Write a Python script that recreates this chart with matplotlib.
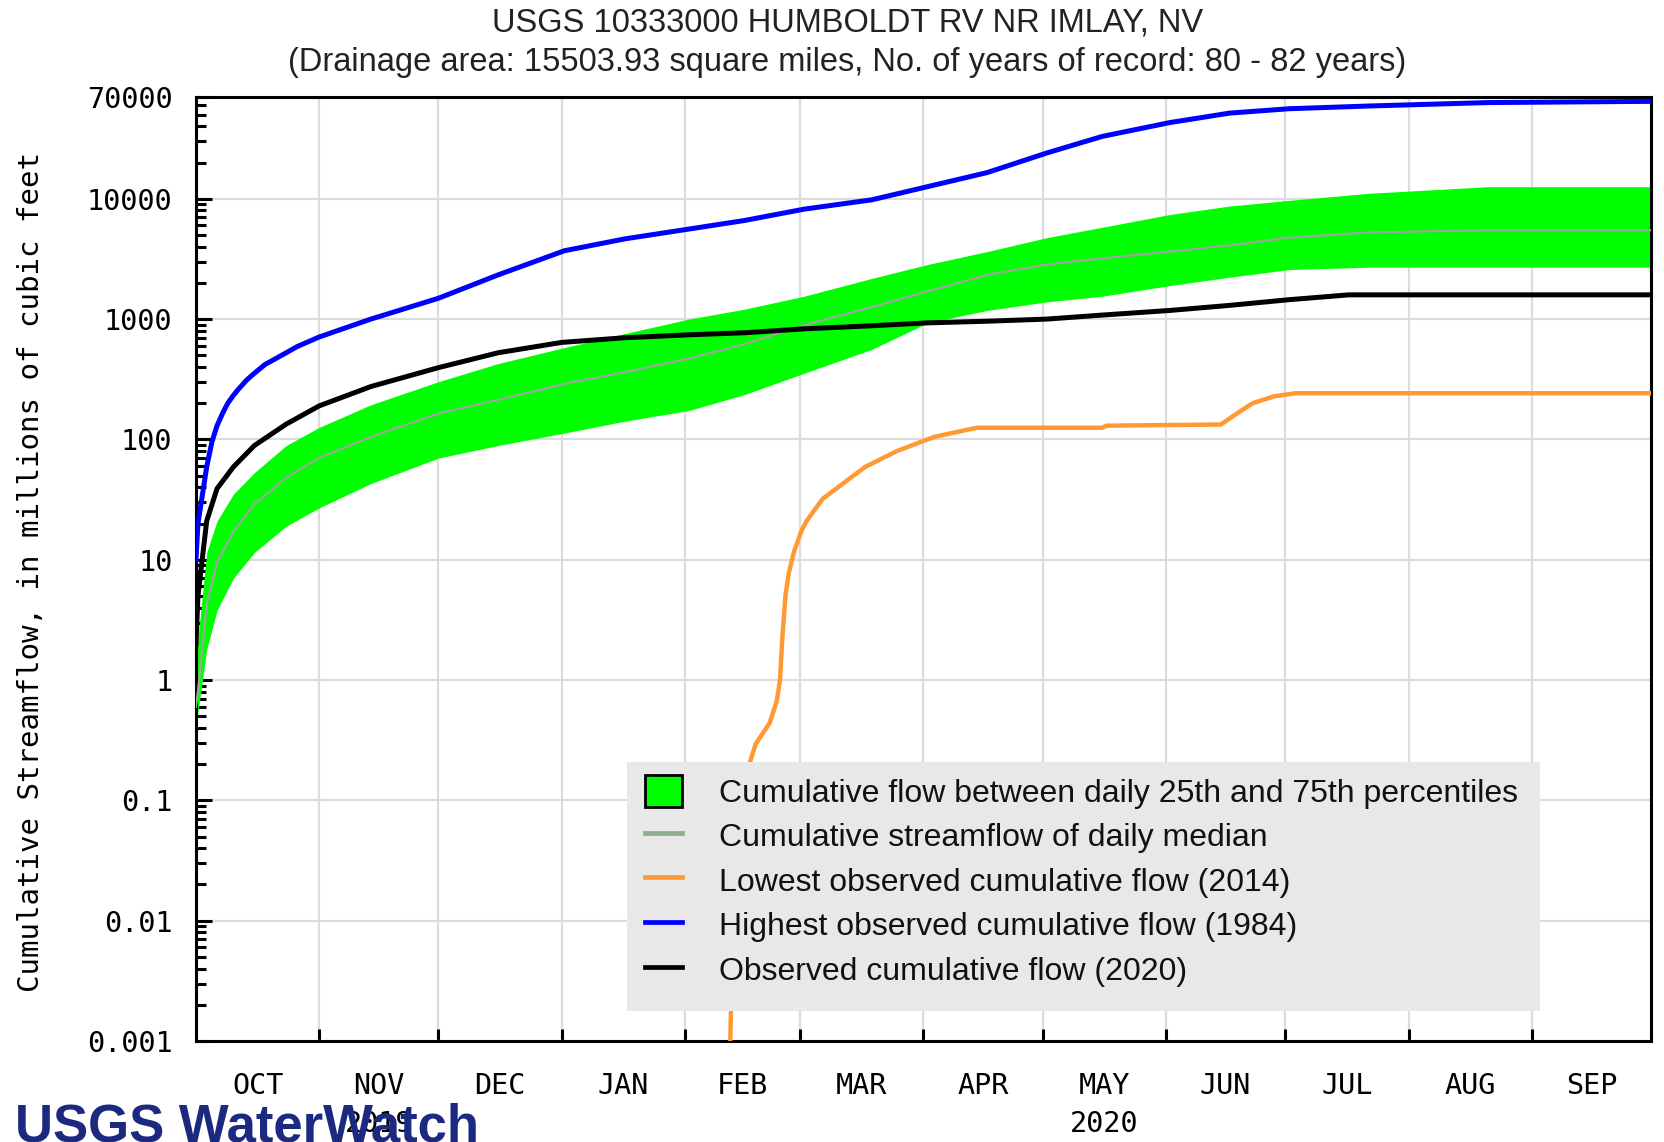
import numpy as np
import pandas as pd
import matplotlib
matplotlib.use('Agg')
import matplotlib.pyplot as plt
from matplotlib.patches import Rectangle, Patch
from matplotlib.lines import Line2D
from matplotlib.ticker import FixedLocator, LogLocator, NullFormatter

# days counted from 2019-10-01 (start of water year 2020)
band_days = [0, 0.5, 2.7, 5.3, 9.4, 14.7, 22.7, 31, 44, 61, 76, 92.7, 108, 124, 138,
             153, 170, 184, 199, 214, 228, 245, 260, 275, 295, 325, 366]
q75 = [1.5, 2.2, 11.5, 21, 35, 53, 89, 126, 194, 302, 427, 580, 760, 1000, 1210,
       1550, 2180, 2840, 3640, 4750, 5800, 7400, 8700, 9700, 11100, 12600, 12600]
q25 = [0.4, 0.54, 1.8, 3.8, 7, 11.5, 19, 27, 43, 70, 89, 113, 142, 174, 236,
       355, 560, 930, 1180, 1390, 1550, 1900, 2230, 2580, 2700, 2700, 2700]
median = [0.6, 0.8, 4.2, 9.4, 17, 29, 48, 70, 105, 164, 213, 290, 363, 470, 620,
          890, 1260, 1700, 2330, 2840, 3200, 3640, 4100, 4750, 5250, 5480, 5480]

high_days = [0, 0.5, 2.7, 4, 5.3, 6.7, 8, 9.4, 10.7, 12.7, 14.7, 17.4, 22.7, 25.4, 31, 44, 61, 76,
             92.7, 108, 124, 138, 153, 170, 184, 199, 214, 228, 245, 260, 275, 295, 325, 366]
high_1984 = [10, 20, 59, 95, 130, 165, 200, 232, 262, 310, 355, 420, 525, 590, 710, 1000, 1490, 2330,
             3700, 4650, 5600, 6600, 8200, 9800, 12600, 16500, 24000, 33000, 43000, 51500,
             56000, 59000, 63000, 64500]

obs_days = [0, 0.5, 2.7, 5.3, 9.4, 14.7, 22.7, 31, 44, 61, 76, 92, 108, 124, 138,
            153, 170, 184, 199, 214, 228, 245, 260, 275, 290, 366]
obs_2020 = [2, 5, 21, 39, 59, 89, 134, 190, 275, 395, 525, 640, 700, 740, 770,
            830, 880, 930, 960, 1000, 1080, 1180, 1300, 1450, 1590, 1590]

low_days = [134.2, 134.6, 136, 139.2, 140.8, 144.3, 146.1, 146.9, 147.5, 148.3, 149.1,
            150.4, 152.3, 153.6, 157.6, 163, 168.3, 176.3, 185.7, 196.4, 228, 229,
            257.8, 261.8, 265.8, 271.2, 276.5, 366]
low_2014 = [0.0005, 0.002, 0.03, 0.2, 0.295, 0.44, 0.67, 1.0, 2.26, 5.1, 7.7,
            11.6, 17.4, 21, 32, 43.6, 59, 80, 105, 125, 125, 130,
            133, 164, 200, 228, 242, 242]

month_names = ['OCT', 'NOV', 'DEC', 'JAN', 'FEB', 'MAR', 'APR', 'MAY', 'JUN', 'JUL', 'AUG', 'SEP']
ytick_vals = [0.001, 0.01, 0.1, 1, 10, 100, 1000, 10000, 70000]
ytick_labels = ['0.001', '0.01', '0.1', '1', '10', '100', '1000', '10000', '70000']

start = pd.Timestamp('2019-10-01')
month_starts = pd.date_range('2019-10-01', '2020-10-01', freq='MS')
month_days = np.array([(d - start).days for d in month_starts])
mid_days = (month_days[:-1] + month_days[1:]) / 2

sans = ['Liberation Sans', 'DejaVu Sans']
mono = ['DejaVu Sans Mono']

fig = plt.figure(figsize=(16.65, 11.42), dpi=100)
ax = fig.add_axes([0.1177, 0.0884, 0.8739, 0.8266])

ax.fill_between(band_days, q25, q75, color='#00ff00', lw=0, zorder=2)
ax.plot(band_days, median, color='#9aa89a', lw=1.6, zorder=3)
ax.plot(low_days, low_2014, color='#ff9933', lw=3.2, zorder=3)
ax.plot(high_days, high_1984, color='#0000ff', lw=3.6, zorder=3)
ax.plot(obs_days, obs_2020, color='black', lw=3.6, zorder=3)

ax.set_yscale('log')
ax.set_ylim(0.001, 70000)
ax.set_xlim(0, month_days[-1])

ax.yaxis.set_major_locator(FixedLocator(ytick_vals))
ax.set_yticklabels(ytick_labels, family=mono, fontsize=20.5)
ax.yaxis.set_minor_locator(LogLocator(base=10, subs=np.arange(2, 10), numticks=30))
ax.yaxis.set_minor_formatter(NullFormatter())
ax.tick_params(axis='y', which='major', direction='in', length=11.5, width=2.2, pad=17)
ax.tick_params(axis='y', which='minor', direction='in', length=7, width=2.2)

ax.set_xticks(month_days)
ax.set_xticklabels([])
ax.set_xticks(mid_days, minor=True)
ax.set_xticklabels(month_names, minor=True, family=mono, fontsize=20.5)
ax.tick_params(axis='x', which='major', direction='in', length=8.5, width=2.2)
ax.tick_params(axis='x', which='minor', length=0, pad=22)

ax.grid(True, which='major', color='#dcdcdc', lw=1.6)
ax.set_axisbelow(True)
for sp in ax.spines.values():
    sp.set_linewidth(2.2)

ax.text(mid_days[1], -0.088, '2019', transform=ax.get_xaxis_transform(), ha='center',
        va='center', family=mono, fontsize=20.5, zorder=10)
ax.text(mid_days[7], -0.088, '2020', transform=ax.get_xaxis_transform(), ha='center',
        va='center', family=mono, fontsize=20.5)

ax.set_ylabel('Cumulative Streamflow, in millions of cubic feet', family=mono, fontsize=21)
ax.yaxis.set_label_coords(-0.104, 0.497)

fig.text(0.509, 1 - 23 / 1142, 'USGS 10333000 HUMBOLDT RV NR IMLAY, NV', ha='center', va='center',
         family=sans, fontsize=23.5, color='#222222')
fig.text(0.509, 1 - 62 / 1142,
         '(Drainage area: 15503.93 square miles, No. of years of record: 80 - 82 years)',
         ha='center', va='center', family=sans, fontsize=23.5, color='#222222')

# legend background
ax.add_patch(Rectangle((0.2962, 0.0318), 0.6275, 0.2638, transform=ax.transAxes,
                       facecolor='#e8e8e8', edgecolor='none', zorder=4.5))
handles = [Patch(facecolor='#00ff00', edgecolor='black', lw=2),
           Line2D([], [], color='#8fae8f', lw=3.4),
           Line2D([], [], color='#ff9933', lw=3.4),
           Line2D([], [], color='#0000ff', lw=3.4),
           Line2D([], [], color='black', lw=3.4)]
labels = ['Cumulative flow between daily 25th and 75th percentiles',
          'Cumulative streamflow of daily median',
          'Lowest observed cumulative flow (2014)',
          'Highest observed cumulative flow (1984)',
          'Observed cumulative flow (2020)']
leg = ax.legend(handles, labels, loc='upper left', bbox_to_anchor=(0.3085, 0.2821),
                frameon=False, borderpad=0, borderaxespad=0, handlelength=1.16,
                handleheight=1.16, handletextpad=1.16, labelspacing=0.34,
                prop={'family': sans, 'size': 23})
leg.set_zorder(6)
for t in leg.get_texts():
    t.set_color('#111111')

fig.text(0.009, 0.0, 'USGS WaterWatch', ha='left', va='baseline', family=sans,
         fontsize=38, weight='bold', color='#1b2a80')

fig.savefig('out.png', dpi=100)
